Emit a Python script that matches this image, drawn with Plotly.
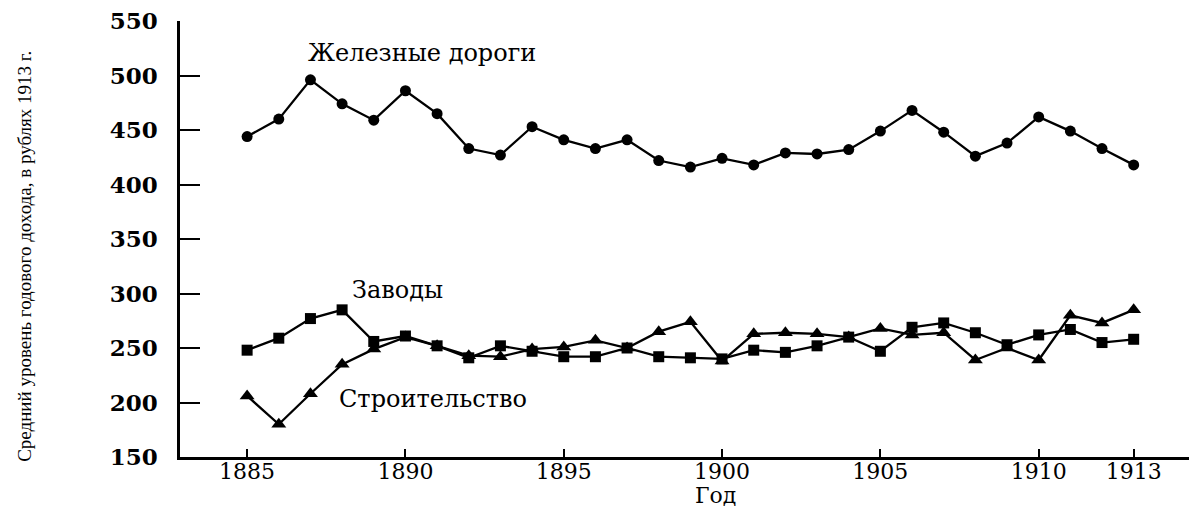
import plotly.graph_objects as go

years = list(range(1885, 1914))
railways = [444, 460, 496, 474, 459, 486, 465, 433, 427, 453, 441, 433, 441, 422, 416,
            424, 418, 429, 428, 432, 449, 468, 448, 426, 438, 462, 449, 433, 418]
factories = [248, 259, 277, 285, 256, 261, 252, 241, 252, 247, 242, 242, 250, 242, 241,
             240, 248, 246, 252, 260, 247, 269, 273, 264, 253, 262, 267, 255, 258]
construction = [206, 180, 208, 235, 249, 260, 252, 243, 242, 249, 251, 257, 250, 265, 274,
                238, 263, 264, 263, 260, 268, 262, 264, 239, 250, 239, 280, 273, 285]

x_ticks = [1885, 1890, 1895, 1900, 1905, 1910, 1913]
y_ticks = [150, 200, 250, 300, 350, 400, 450, 500, 550]

series_labels = ["Железные дороги", "Заводы", "Строительство"]
x_title = "Год"
y_title = "Средний уровень годового дохода, в рублях 1913 г."

fig = go.Figure()
fig.add_trace(go.Scatter(x=years, y=railways, mode="lines+markers",
                         line=dict(color="black", width=2.3),
                         marker=dict(symbol="circle", size=11, color="black")))
fig.add_trace(go.Scatter(x=years, y=factories, mode="lines+markers",
                         line=dict(color="black", width=2.3),
                         marker=dict(symbol="square", size=11, color="black")))
fig.add_trace(go.Scatter(x=years, y=construction, mode="lines+markers",
                         line=dict(color="black", width=2.3),
                         marker=dict(symbol="triangle-up", size=13, color="black")))

serif = "DejaVu Serif"
fig.update_layout(
    width=1189, height=499,
    margin=dict(l=172, r=0, t=13, b=50),
    paper_bgcolor="white", plot_bgcolor="white",
    showlegend=False,
    xaxis=dict(range=[1882.88, 1915.0], tickvals=x_ticks, ticktext=[str(v) for v in x_ticks],
               showline=True, linecolor="black", linewidth=2.5,
               ticks="inside", ticklen=8, tickwidth=2, tickcolor="black",
               showgrid=False, zeroline=False, automargin=False,
               tickfont=dict(family=serif, size=22, color="black"),
               ticklabelstandoff=-7, ticklabeloverflow="allow"),
    yaxis=dict(range=[150, 550], tickvals=y_ticks,
               showline=True, linecolor="black", linewidth=2.5,
               ticks="inside", ticklen=20, tickwidth=2, tickcolor="black",
               showgrid=False, zeroline=False, automargin=False,
               tickfont=dict(family=serif, size=23, color="black", weight="bold"),
               ticklabelstandoff=15, ticklabeloverflow="allow"),
    annotations=[
        dict(text=series_labels[0], x=1886.86, y=521, xref="x", yref="y", showarrow=False,
             xanchor="left", yanchor="middle", font=dict(family=serif, size=24, color="black")),
        dict(text=series_labels[1], x=1888.26, y=303, xref="x", yref="y", showarrow=False,
             xanchor="left", yanchor="middle", font=dict(family=serif, size=24, color="black")),
        dict(text=series_labels[2], x=1887.85, y=203, xref="x", yref="y", showarrow=False,
             xanchor="left", yanchor="middle", font=dict(family=serif, size=24, color="black")),
        dict(text=x_title, x=1899.8, y=-0.088, xref="x", yref="paper", showarrow=False,
             xanchor="center", yanchor="middle", font=dict(family=serif, size=22, color="black")),
        dict(text=y_title, x=-0.153, y=0.46, xref="paper", yref="paper", showarrow=False,
             textangle=-90, xanchor="center", yanchor="middle",
             font=dict(family="Liberation Serif", size=19, color="black")),
    ],
)

fig.write_html("out.html")
